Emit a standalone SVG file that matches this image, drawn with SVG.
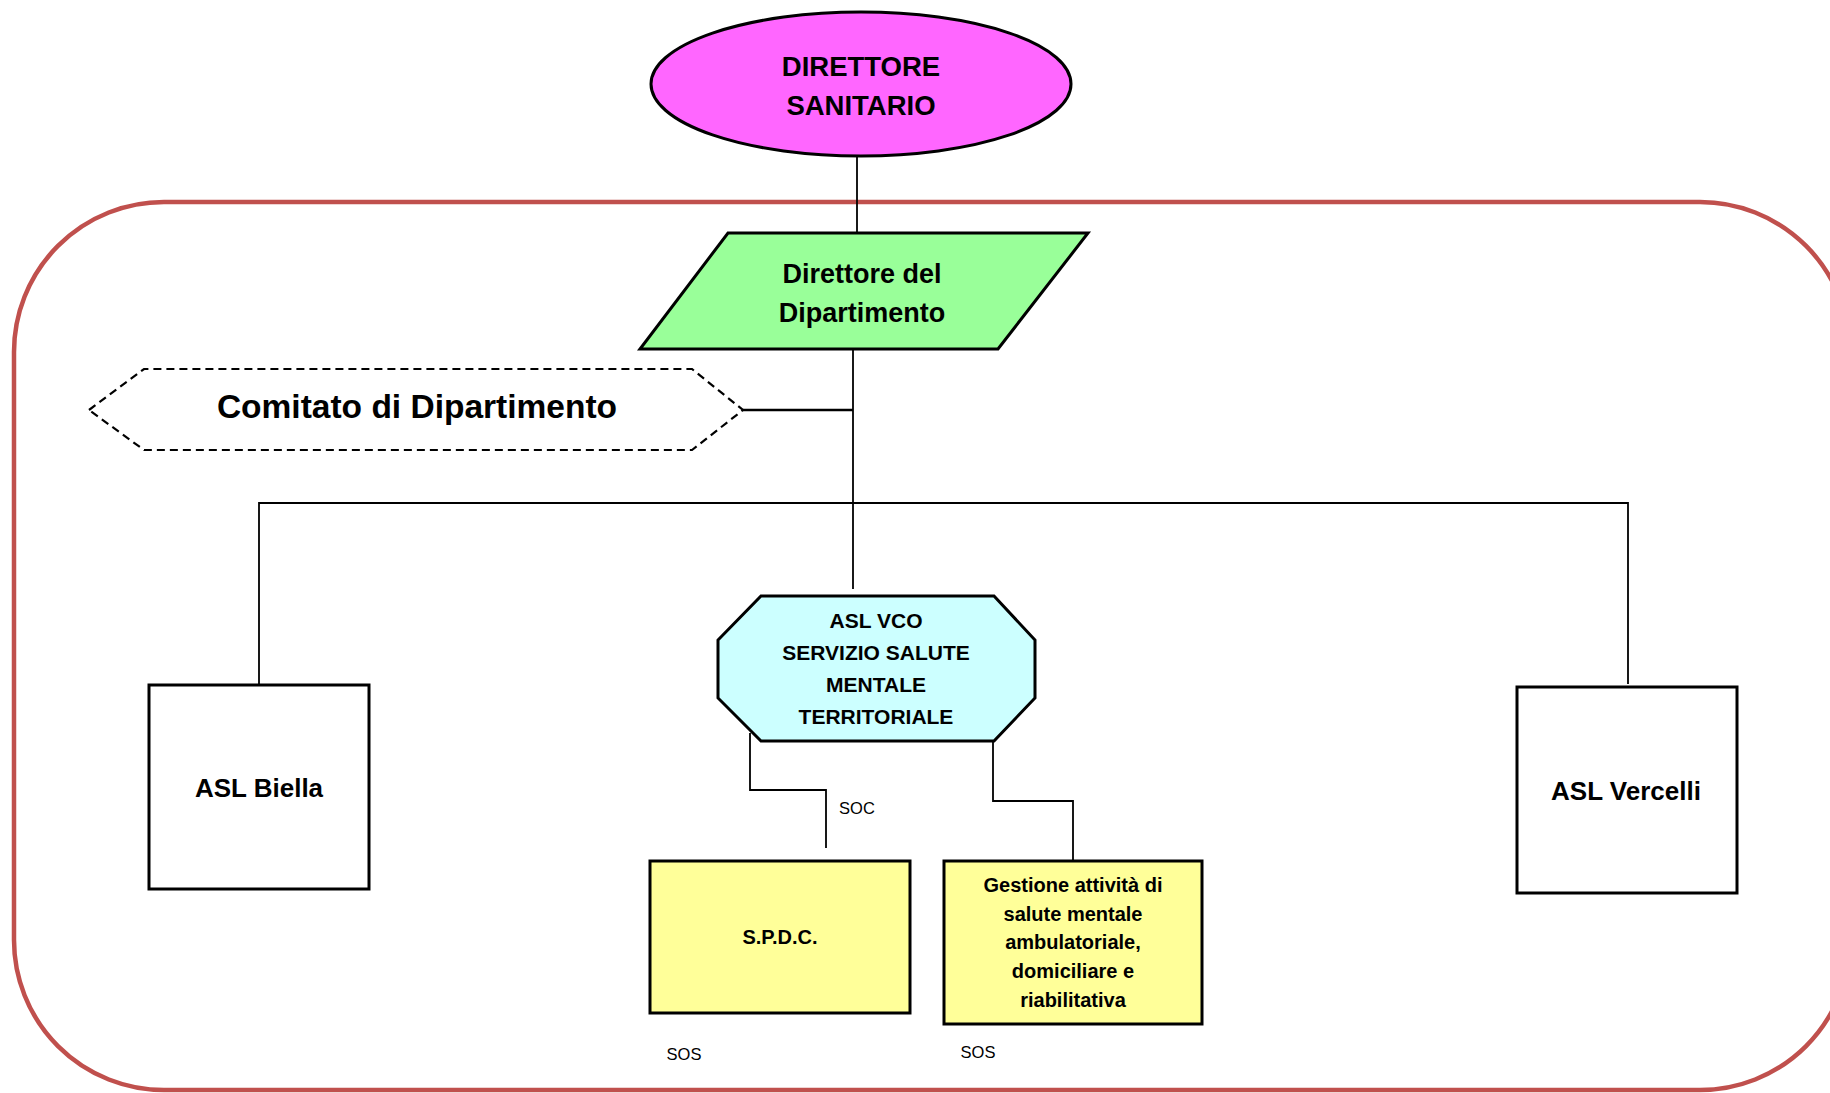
<svg xmlns="http://www.w3.org/2000/svg" width="1830" height="1093" viewBox="0 0 1830 1093">
<style>
text{font-family:"Liberation Sans",Arial,sans-serif;fill:#000;text-anchor:middle}
.b{font-weight:bold}
.node{stroke:#000;stroke-width:3}
.conn{fill:none;stroke:#000;stroke-width:1.8}
.small{font-size:16.5px}
</style>
<rect x="14" y="202" width="1836" height="888" rx="150" ry="150" fill="none" stroke="#C0504D" stroke-width="4.5"/>
<g id="connectors">
<line class="conn" x1="857" y1="156" x2="857" y2="233"/>
<line class="conn" x1="853" y1="349" x2="853" y2="589"/>
<line class="conn" x1="743" y1="410" x2="853" y2="410" style="stroke-width:2.5"/>
<polyline class="conn" points="259,685 259,503 1628,503 1628,684"/>
<polyline class="conn" points="750,733 750,790 826,790 826,848"/>
<polyline class="conn" points="993,741 993,801 1073,801 1073,861"/>
</g>
<g id="direttore-sanitario">
<ellipse class="node" cx="861" cy="84" rx="210" ry="72" fill="#FF66FF"/>
<text class="b" x="861" y="76" font-size="27.5">DIRETTORE</text>
<text class="b" x="861" y="115" font-size="27.5">SANITARIO</text>
</g>
<g id="direttore-dipartimento">
<polygon class="node" points="728,233 1088,233 998,349 640,349" fill="#99FF99"/>
<text class="b" x="862" y="283" font-size="27">Direttore del</text>
<text class="b" x="862" y="322" font-size="27">Dipartimento</text>
</g>
<g id="comitato">
<polygon points="89,410 144,369 692,369 743,410 692,450 144,450" fill="none" stroke="#000" stroke-width="2.2" stroke-dasharray="8,5"/>
<text class="b" x="417" y="418" font-size="33.5">Comitato di Dipartimento</text>
</g>
<g id="asl-biella">
<rect class="node" x="149" y="685" width="220" height="204" fill="#fff"/>
<text class="b" x="259" y="797" font-size="26">ASL Biella</text>
</g>
<g id="asl-vercelli">
<rect class="node" x="1517" y="687" width="220" height="206" fill="#fff"/>
<text class="b" x="1626" y="800" font-size="26">ASL Vercelli</text>
</g>
<g id="asl-vco">
<polygon class="node" points="761,596 994,596 1035,640 1035,698 994,741 761,741 718,698 718,640" fill="#CCFFFF"/>
<text class="b" x="876" y="628" font-size="21">ASL VCO</text>
<text class="b" x="876" y="660" font-size="21">SERVIZIO SALUTE</text>
<text class="b" x="876" y="692" font-size="21">MENTALE</text>
<text class="b" x="876" y="724" font-size="21">TERRITORIALE</text>
</g>
<g id="spdc">
<rect class="node" x="650" y="861" width="260" height="152" fill="#FFFF99"/>
<text class="b" x="780" y="944" font-size="20">S.P.D.C.</text>
</g>
<g id="gestione">
<rect class="node" x="944" y="861" width="258" height="163" fill="#FFFF99"/>
<text class="b" x="1073" y="892" font-size="20">Gestione attività di</text>
<text class="b" x="1073" y="921" font-size="20">salute mentale</text>
<text class="b" x="1073" y="949" font-size="20">ambulatoriale,</text>
<text class="b" x="1073" y="978" font-size="20">domiciliare e</text>
<text class="b" x="1073" y="1007" font-size="20">riabilitativa</text>
</g>
<g id="labels">
<text class="small" x="857" y="814">SOC</text>
<text class="small" x="684" y="1060">SOS</text>
<text class="small" x="978" y="1058">SOS</text>
</g>
</svg>
